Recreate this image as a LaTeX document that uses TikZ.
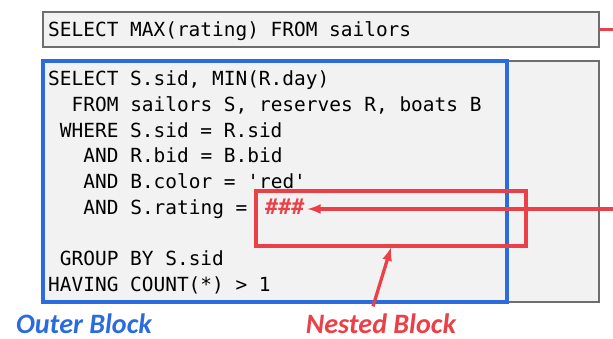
\documentclass[tikz,border=0pt]{standalone}
\usepackage{fontspec}
\setmainfont{DejaVu Sans}
\setmonofont{DejaVu Sans Mono}
\newfontfamily\labelfont{Carlito}
\usetikzlibrary{fit}
\definecolor{outerblue}{RGB}{44,107,222}
\definecolor{nestred}{RGB}{235,64,72}
\definecolor{boxgray}{RGB}{110,110,110}
\definecolor{boxfill}{RGB}{242,242,242}
\tikzset{>=latex}
\tikzset{
  qbox/.style = {draw=boxgray, fill=boxfill, line width=1.6pt, inner sep=0pt},
  outerbox/.style = {draw=outerblue, line width=2.6pt, inner sep=0pt},
  nestbox/.style = {draw=nestred, line width=2.6pt, inner sep=0pt},
  code/.style = {font=\ttfamily\fontsize{16.6}{20}\selectfont, inner sep=0pt},
  blocklabel/.style = {font=\labelfont\bfseries\itshape\fontsize{24}{28}\selectfont, inner sep=0pt},
  redline/.style = {draw=nestred, line width=2.8pt}
}

\begin{document}
\begin{tikzpicture}[x=0.3mm,y=-0.3mm]
  \useasboundingbox (0,0) rectangle (613,339);
  % top query
  \node[qbox, fit={(43,12) (599,47)}] (topq) {};
  \node[code, anchor=base west] (topsql) at (48,36.5) {SELECT MAX(rating) FROM sailors};
  % outer query
  \node[qbox, fit={(43,61) (599,302)}] (backq) {};
  \node[outerbox, fit={(43,61) (507,302)}] (outer) {};
  \foreach \i/\ind/\txt in {0/0/{SELECT S.sid, MIN(R.day)},
                            1/2/{FROM sailors S, reserves R, boats B},
                            2/1/{WHERE S.sid = R.sid},
                            3/3/{AND R.bid = B.bid},
                            4/3/{AND B.color = 'red'},
                            5/3/{AND S.rating =},
                            7/1/{GROUP BY S.sid},
                            8/0/{HAVING COUNT(*) > 1}}
    \node[code, anchor=base west] (line\i) at ({48+11.75*\ind},{86+25.65*\i}) {\txt};
  % nested block
  \node[nestbox, fit={(256,191) (526,246)}] (nest) {};
  \node[code, text=nestred, anchor=base west, font=\ttfamily\bfseries\fontsize{18.5}{20}\selectfont] (hash) at (265,214) {\#\#\#};
  % labels
  \node[blocklabel, text=outerblue, anchor=base] (outerlbl) at (84,333) {Outer Block};
  \node[blocklabel, text=nestred, anchor=base] (nestlbl) at (381,333) {Nested Block};
  % arrows
  \coordinate (rtop) at (613,29.5);
  \coordinate (rmid) at (613,209);
  \draw[redline] (topq.east) -- (rtop);
  \draw[redline,->] (rmid) -- ([xshift=0.9mm]rmid -| hash.east);
  \draw[redline,->] ([xshift=-2.4mm,yshift=2mm]nestlbl.north) -- (nest.south);
\end{tikzpicture}
\end{document}
